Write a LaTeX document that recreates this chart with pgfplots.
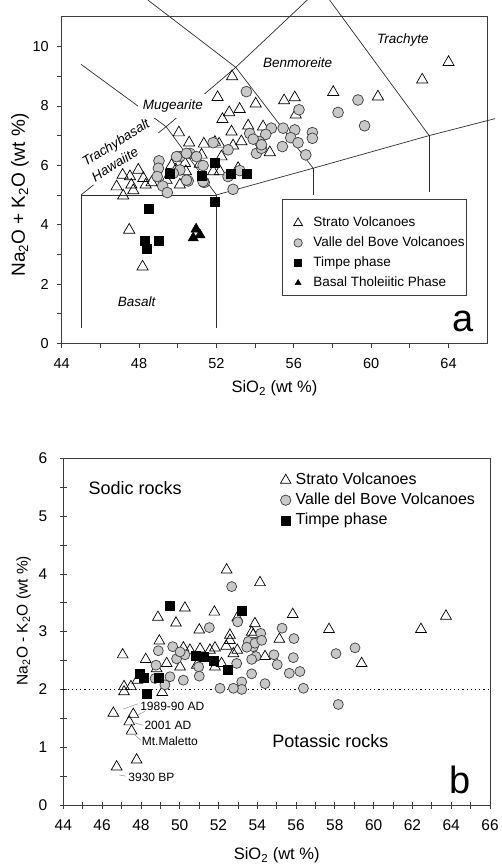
\documentclass[border=0pt]{standalone}
\usepackage{fontspec}
\setmainfont{Liberation Sans}
\usepackage{pgfplots}
\pgfplotsset{compat=1.18}
\definecolor{axisgray}{RGB}{60,60,60}
\definecolor{circfill}{RGB}{200,200,200}
\definecolor{linegray}{RGB}{45,45,45}

\pgfplotsset{
  myaxis/.style={
    scale only axis, clip=false, enlargelimits=false,
    axis line style={draw=axisgray, line width=0.8pt},
    tick style={draw=axisgray, line width=0.7pt},
    xtick pos=bottom, ytick pos=left,
    /pgf/number format/assume math mode=true,
    legend cell align=left,
  },
  strato/.style={only marks, mark=triangle, mark size=#1, mark options={fill=white, draw=black, line width=0.7pt}},
  valle/.style={only marks, mark=*, mark size=#1, mark options={fill=circfill, draw=axisgray, line width=0.7pt}},
  timpe/.style={only marks, mark=square*, mark size=#1, mark options={fill=black, draw=black}},
  basal/.style={only marks, mark=triangle*, mark size=#1, mark options={fill=black, draw=black}},
  legimg/.style={legend image code/.code={\draw[##1] plot coordinates {(0pt,0pt)}; \path (-5pt,0pt) (5pt,0pt);}},
  bound/.style={linegray, line width=0.7pt, forget plot},
}

\begin{document}
\begin{tikzpicture}
\useasboundingbox (0,0) rectangle (501pt,867pt);

% ---------------- Panel a ----------------
\begin{axis}[myaxis,
  at={(61.7pt,523.7pt)}, anchor=south west,
  width=425.5pt, height=326.4pt,
  xmin=44, xmax=66, ymin=0, ymax=11,
  tick align=outside, major tick length=5pt, minor tick length=5pt,
  xtick={44,48,...,64}, minor xtick={46,50,...,62},
  ytick={0,2,...,10}, minor ytick={1,3,...,9},
  tick label style={font=\fontsize{14.5}{16}\selectfont},
  xticklabel style={yshift=-7pt},
  yticklabel style={xshift=-4.5pt},
  xlabel={SiO\textsubscript{2} (wt \%)},
  ylabel={Na\textsubscript{2}O + K\textsubscript{2}O (wt \%)},
  xlabel style={font=\fontsize{16.5}{18}\selectfont, at={(axis description cs:0.5,-0.138)}, anchor=center},
  ylabel style={font=\fontsize{19}{21}\selectfont, at={(axis description cs:-0.098,0.454)}, anchor=center},
  legend style={at={(axis description cs:0.5429,0.3955)}, anchor=north west,
    draw=none, fill=none, font=\fontsize{13.5}{15}\selectfont,
    inner sep=0pt, row sep=3pt, column sep=8pt,
    nodes={inner sep=2pt, text height=10pt, text depth=3pt}},
]
% TAS boundaries
\addplot[bound] coordinates {(45,0.5)(45,5)(52,5)(52,0.5)};
\addplot[bound] coordinates {(52,5)(57,5.9)(63,7)(66.4,7.57)};
\addplot[bound] coordinates {(57,5.9)(57,5.0)};
\addplot[bound] coordinates {(63,7)(63,5.1)};
\addplot[bound] coordinates {(45,5)(49.4,7.3)(52,5)};
\addplot[bound] coordinates {(49.4,7.3)(53,9.3)(56.7,11.57)};
\addplot[bound] coordinates {(48.45,11.57)(53,9.3)(57,5.9)};
\addplot[bound] coordinates {(57.85,11.57)(63,7)};
\addplot[bound] coordinates {(45,9.4)(49.4,7.3)};
% field names
\node[fill=white, align=left, rotate=32, inner sep=3pt, font=\itshape\fontsize{13.5}{18}\selectfont] at (axis cs:47.04,6.51) {Trachybasalt\\Hawaiite};
\node[fill=white, inner xsep=5pt, inner ysep=6pt, font=\itshape\fontsize{13.5}{15}\selectfont] at (axis cs:49.75,8.0) {Mugearite};
\node[font=\itshape\fontsize{13.5}{15}\selectfont] at (axis cs:56.2,9.46) {Benmoreite};
\node[font=\itshape\fontsize{13.5}{15}\selectfont] at (axis cs:61.64,10.22) {Trachyte};
\node[font=\itshape\fontsize{13.5}{15}\selectfont] at (axis cs:47.87,1.4) {Basalt};
\node[font=\fontsize{38}{40}\selectfont] at (axis cs:64.74,0.73) {a};
% legend frame
\draw[axisgray, line width=0.7pt, fill=white] (axis description cs:0.5194,0.4412) rectangle (axis description cs:0.9518,0.1480);

% Strato volcanoes
\addplot[strato=6.5pt, forget plot] coordinates {
(64.0,9.47)(62.64,8.88)(60.35,8.31)(58.04,8.46)(56.05,8.28)(55.5,8.18)(56.1,7.7)
(54.03,8.07)(53.2,7.89)(52.66,7.78)(52.81,8.99)(52.06,8.29)(52.31,7.55)(53.64,7.33)
(54.41,7.3)(52.78,7.13)(50.06,7.1)(50.59,6.76)(51.35,6.72)(51.92,6.78)(52.14,6.72)
(52.86,6.66)(53.29,6.8)(54.76,6.43)(51.23,6.35)(52.26,6.29)(50.37,6.07)(49.68,6.0)
(51.14,6.04)(50.42,5.79)(51.83,5.79)(52.18,5.79)(50.11,5.34)(49.42,5.5)(48.65,5.42)
(47.96,5.84)(47.15,5.67)(47.53,5.62)(46.84,5.28)(47.18,4.97)(47.7,5.15)(48.22,5.56)
(48.34,5.34)(47.6,5.34)(47.49,3.82)(48.18,2.58)(53.12,5.9)(49.9,5.85)
};
% Valle del Bove
\addplot[valle=5.4pt, forget plot] coordinates {
(53.55,8.48)(56.27,7.87)(58.29,7.78)(59.32,8.2)(59.66,7.33)(56.96,7.1)(56.96,6.91)
(56.62,6.35)(56.05,7.19)(55.84,6.93)(56.22,6.76)(55.45,7.25)(55.41,6.63)(54.84,7.25)
(54.55,7.04)(54.21,6.8)(54.07,6.4)(54.33,6.57)(53.72,7.07)(53.9,6.88)(54.33,6.69)
(51.83,6.76)(52.6,6.52)(50.63,6.4)(50.11,6.29)(49.94,6.29)(49.03,6.15)(49.0,5.9)
(48.94,5.62)(49.22,5.3)(49.46,5.08)(50.54,5.47)(51.31,5.99)(51.37,5.42)(52.6,5.62)
(52.86,5.19)(53.21,5.82)(50.11,5.84)(49.77,5.73)(50.45,6.4)(50.97,6.29)(50.45,5.5)
(51.31,5.45)
};
% Timpe phase
\addplot[timpe=4.5pt, forget plot] coordinates {
(49.56,5.73)(51.23,5.65)(51.92,6.07)(52.74,5.73)(53.55,5.7)(51.92,4.78)(48.5,4.55)
(48.3,3.45)(48.42,3.2)(49.04,3.46)
};
% Basal tholeiitic
\addplot[basal=6pt, forget plot] coordinates {(50.8,3.55)(50.95,3.85)(51.15,3.65)};

\addlegendimage{strato=5pt, legimg}\addlegendentry{Strato Volcanoes}
\addlegendimage{valle=4.2pt, legimg}\addlegendentry{Valle del Bove Volcanoes}
\addlegendimage{timpe=3.5pt, legimg}\addlegendentry{Timpe phase}
\addlegendimage{basal=3.5pt, legimg}\addlegendentry{Basal Tholeiitic Phase}
\end{axis}

% ---------------- Panel b ----------------
\begin{axis}[myaxis,
  at={(63.3pt,62pt)}, anchor=south west,
  width=426.7pt, height=346.7pt,
  xmin=44, xmax=66, ymin=0, ymax=6,
  tick align=center, major tick length=7pt, minor tick length=7pt,
  xtick={44,46,...,66}, minor xtick={45,47,...,65},
  ytick={0,...,6}, minor ytick={0.5,1.5,...,5.5},
  tick label style={font=\fontsize{15.5}{17}\selectfont},
  xticklabel style={yshift=-8pt},
  yticklabel style={xshift=-9pt},
  xlabel={SiO\textsubscript{2} (wt \%)},
  ylabel={Na\textsubscript{2}O - K\textsubscript{2}O (wt \%)},
  xlabel style={font=\fontsize{16.5}{18}\selectfont, at={(axis description cs:0.5,-0.146)}, anchor=center},
  ylabel style={font=\fontsize{15.5}{17}\selectfont, at={(axis description cs:-0.093,0.532)}, anchor=center},
  legend style={at={(axis description cs:0.5086,0.9655)}, anchor=north west,
    draw=none, fill=none, font=\fontsize{16}{18}\selectfont,
    inner sep=0pt, row sep=0.5pt, column sep=2.7pt,
    nodes={inner sep=2pt, text height=12pt, text depth=3.5pt}},
]
\addplot[forget plot, black, line width=1.1pt, dash pattern=on 1.2pt off 3pt] coordinates {(44,2)(66,2)};

\node[font=\fontsize{18}{20}\selectfont] at (axis cs:47.7,5.48) {Sodic rocks};
\node[font=\fontsize{18}{20}\selectfont] at (axis cs:57.77,1.1) {Potassic rocks};
\node[font=\fontsize{38}{40}\selectfont] at (axis cs:64.46,0.43) {b};

% leader lines
\addplot[forget plot, gray, line width=0.4pt] coordinates {(47.09,1.66)(47.84,1.75)};
\addplot[forget plot, gray, line width=0.4pt] coordinates {(47.87,1.56)(48.2,1.62)};
\addplot[forget plot, gray, line width=0.4pt] coordinates {(47.7,1.42)(48.1,1.38)};
\addplot[forget plot, gray, line width=0.4pt] coordinates {(47.7,1.21)(48.0,1.12)};
\addplot[forget plot, gray, line width=0.4pt] coordinates {(46.87,0.52)(47.22,0.5)};
\node[anchor=west, inner sep=0pt, font=\fontsize{12}{14}\selectfont] at (axis cs:47.96,1.71) {1989-90 AD};
\node[anchor=west, inner sep=0pt, font=\fontsize{12}{14}\selectfont] at (axis cs:48.18,1.38) {2001 AD};
\node[anchor=west, inner sep=0pt, font=\fontsize{12}{14}\selectfont] at (axis cs:48.04,1.11) {Mt.Maletto};
\node[anchor=west, inner sep=0pt, font=\fontsize{12}{14}\selectfont] at (axis cs:47.35,0.48) {3930 BP};

% Strato
\addplot[strato=6.2pt, forget plot] coordinates {
(63.73,3.27)(62.44,3.04)(59.38,2.45)(57.7,3.04)(55.83,3.30)(55.14,2.87)(54.14,3.85)
(53.88,3.14)(53.71,2.99)(52.42,4.07)(52.97,3.24)(52.97,2.68)(52.59,2.85)(52.59,2.94)
(51.79,3.34)(51.82,2.72)(51.01,3.03)(51.05,2.7)(50.27,3.41)(50.19,2.72)(49.81,3.15)
(50.02,2.39)(48.88,3.25)(48.95,2.84)(48.25,2.52)(49.33,2.45)(47.06,2.6)(47.13,2.05)
(47.49,2.05)(47.82,2.16)(49.1,1.95)(47.13,1.96)(54.4,2.57)(50.88,2.42)(51.3,2.54)
(52.16,2.45)(52.77,2.62)(50.53,2.68)(46.58,1.59)(47.61,1.57)(47.4,1.44)(47.52,1.28)
(46.75,0.66)(47.78,0.78)(48.81,2.36)(51.82,2.39)(51.56,2.68)(53.8,2.95)(52.4,2.75)
};
% Valle del Bove
\addplot[valle=5pt, forget plot] coordinates {
(58.06,2.62)(59.04,2.72)(58.18,1.74)(55.28,3.06)(55.89,2.88)(55.86,2.55)(55.65,2.28)
(56.2,2.31)(56.38,2.02)(54.86,2.6)(55.03,2.43)(54.4,2.1)(53.71,2.27)(53.2,2.13)
(53.2,2.0)(52.77,2.02)(52.08,2.02)(52.68,3.78)(52.99,3.17)(52.94,2.45)(51.53,3.07)
(53.54,2.83)(53.8,2.74)(53.88,2.8)(53.93,2.57)(54.18,2.97)(54.23,2.85)(53.71,2.52)
(50.98,2.39)(51.01,2.23)(49.64,2.74)(49.84,2.53)(50.27,2.6)(50.19,2.16)(49.5,2.22)
(49.24,2.08)(48.9,2.67)(48.78,2.42)(48.73,2.19)(50.02,2.65)(53.46,2.73)
};
% Timpe
\addplot[timpe=4.5pt, forget plot] coordinates {
(49.47,3.45)(53.2,3.37)(50.84,2.59)(51.22,2.57)(51.77,2.5)(52.46,2.34)(47.95,2.27)
(48.13,2.21)(48.9,2.2)(48.3,1.93)
};
\addlegendimage{strato=6pt, legimg}\addlegendentry{Strato Volcanoes}
\addlegendimage{valle=5.2pt, legimg}\addlegendentry{Valle del Bove Volcanoes}
\addlegendimage{timpe=4.5pt, legimg}\addlegendentry{Timpe phase}
\end{axis}
\end{tikzpicture}
\end{document}
